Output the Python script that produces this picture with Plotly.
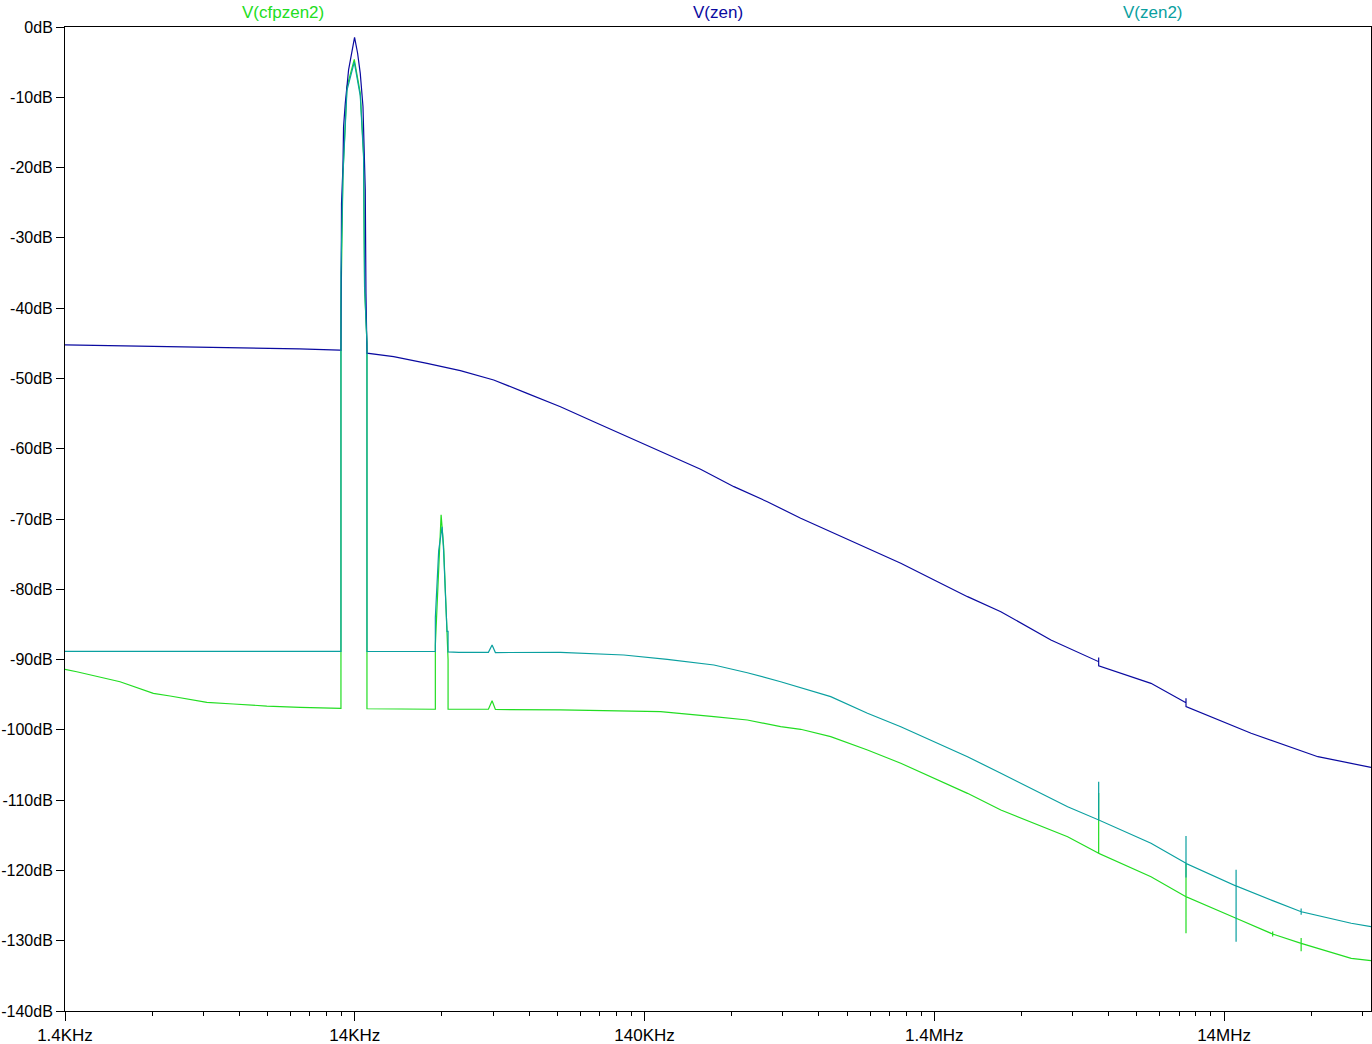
import plotly.graph_objects as go

# ---------------- data ----------------
freq_zen = [1400, 3000, 6000, 9000, 12400, 12544, 12600, 12746, 12807, 12981, 13328, 13691,
            13977, 14316, 14626, 14944, 15099, 15219, 15303, 15425, 19068, 24864, 32396,
            42224, 55062, 71778, 93576, 121996, 159040, 218540, 284900, 371560, 484260,
            631120, 823200, 1072680, 1397760, 1822800, 2375800, 3536400, 5168800, 5168800,
            5168800, 7833000, 10346000, 10346000, 10346000, 17357000, 29502000, 45000000]
db_zen = [-45.24, -45.45, -45.65, -45.8, -45.96, -46.0, -25.1, -19.9, -14.2, -10.9, -6.1, -3.3,
          -1.47, -3.7, -6.6, -11.3, -18.0, -23.2, -37.9, -46.4, -46.91, -47.85, -48.90,
          -50.22, -52.12, -54.02, -56.16, -58.29, -60.42, -62.93, -65.40, -67.54, -69.90,
          -72.03, -74.17, -76.30, -78.68, -81.05, -83.19, -87.22, -90.30, -89.7,
          -90.9, -93.38, -96.13, -95.5, -96.7, -100.49, -103.82, -105.33]

freq_zen2 = [1400, 12544, 12544, 12746, 13158, 13946, 14626, 15015, 15135, 15425, 15425,
             26558, 26558, 26922, 27272, 28014, 28364, 28756, 29148, 29386, 29386,
             32000, 40488, 41692, 42798, 71778, 118730, 167700, 243000, 316800, 413000,
             614600, 823200, 1072680, 1397760, 1822800, 2375800, 3096800, 3536400,
             4039000, 5168800, 5168800, 5168800, 7833000, 10346000, 10346000, 10346000,
             10346000, 15404000, 15404000, 15404000, 15404000, 20600000, 25830000,
             25830000, 25830000, 25830000, 38454000, 45000000]
db_zen2 = [-88.82, -88.82, -35.0, -21.0, -9.0, -5.0, -9.8, -18.5, -37.0, -45.0, -88.82,
           -88.85, -84.0, -80.0, -74.5, -71.1, -74.5, -80.5, -86.0, -86.0, -88.9,
           -88.97, -88.97, -87.93, -89.0, -88.97, -89.35, -89.96, -90.77, -91.87, -93.15,
           -95.28, -97.64, -99.55, -101.68, -103.82, -106.18, -108.56, -109.74,
           -110.93, -112.82, -107.38, -112.82, -116.14, -118.99, -115.1, -121.0,
           -118.99, -122.21, -119.9, -130.14, -122.21, -124.3, -125.87,
           -125.4, -126.3, -125.87, -127.52, -128.0]

freq_cfp = [1400, 1537, 2168, 2825, 3227, 4322, 5340, 6962, 9075, 12474, 12544, 12544,
            12746, 13158, 13946, 14626, 15015, 15135, 15425, 15425, 26558, 26558, 26922,
            27272, 27804, 28364, 28756, 29148, 29386, 29386, 40488, 41692, 42798, 71778,
            159040, 243000, 316800, 413000, 484260, 614600, 823200, 1072680, 1397760,
            1822800, 2375800, 3096800, 4039000, 5168800, 5168800, 5168800, 7833000,
            10346000, 10346000, 10346000, 10346000, 15404000, 20600000, 20600000,
            20600000, 20600000, 25830000, 25830000, 25830000, 25830000, 38454000, 45000000]
db_cfp = [-91.38, -91.73, -93.15, -94.80, -95.18, -96.08, -96.32, -96.61, -96.79, -96.93,
          -96.93, -40.0, -20.8, -8.5, -4.6, -9.4, -18.0, -37.0, -45.0, -97.0, -97.07, -88.0,
          -82.5, -75.4, -69.4, -73.9, -80.1, -88.2, -90.0, -97.07, -97.07, -95.85, -97.1,
          -97.17, -97.41, -98.13, -98.60, -99.55, -99.92, -100.97, -102.86, -104.76,
          -106.89, -109.03, -111.40, -113.29, -115.20, -117.56, -108.98, -117.56, -120.89,
          -123.74, -118.9, -128.95, -123.74, -126.81, -129.05, -128.7, -129.4, -129.05,
          -130.37, -129.6, -131.5, -130.37, -132.5, -132.84]

y_ticks = [0, -10, -20, -30, -40, -50, -60, -70, -80, -90, -100, -110, -120, -130, -140]
y_labels = ["0dB", "-10dB", "-20dB", "-30dB", "-40dB", "-50dB", "-60dB", "-70dB", "-80dB",
            "-90dB", "-100dB", "-110dB", "-120dB", "-130dB", "-140dB"]
x_ticks = [1.4e3, 1.4e4, 1.4e5, 1.4e6, 1.4e7]
x_labels = ["1.4KHz", "14KHz", "140KHz", "1.4MHz", "14MHz"]
minor_x = [1.4e3 * k * 10 ** n for n in range(5) for k in range(2, 10) if 1.4e3 * k * 10 ** n < 45e6]

names = ["V(cfpzen2)", "V(zen)", "V(zen2)"]
colors = ["#22dd22", "#0a0aa0", "#0aa0a0"]

FONT = "Liberation Sans, Arial, sans-serif"

fig = go.Figure()
fig.add_trace(go.Scatter(x=freq_cfp, y=db_cfp, mode="lines", name=names[0],
                         line=dict(color=colors[0], width=1.2)))
fig.add_trace(go.Scatter(x=freq_zen, y=db_zen, mode="lines", name=names[1],
                         line=dict(color=colors[1], width=1.2)))
fig.add_trace(go.Scatter(x=freq_zen2, y=db_zen2, mode="lines", name=names[2],
                         line=dict(color=colors[2], width=1.2)))

for i, (nm, c) in enumerate(zip(names, colors)):
    fig.add_annotation(text=nm, xref="paper", yref="paper", x=(2 * i + 1) / 6, y=1.0,
                       yshift=15, xanchor="center", yanchor="middle", showarrow=False,
                       font=dict(family=FONT, size=17, color=c))

fig.update_layout(
    width=1372, height=1044,
    margin=dict(l=65, r=1, t=27, b=33),
    paper_bgcolor="white", plot_bgcolor="white",
    showlegend=False,
    font=dict(family=FONT, size=17, color="black"),
    xaxis=dict(type="log", range=[3.14613, 7.65321], tickmode="array",
               tickvals=x_ticks, ticktext=x_labels, ticks="outside", ticklen=9,
               tickcolor="black", showline=True, linecolor="black", linewidth=1,
               mirror=True, showgrid=False, zeroline=False, automargin=False,
               minor=dict(tickmode="array", tickvals=minor_x, ticks="outside",
                          ticklen=4, tickcolor="black", showgrid=False)),
    yaxis=dict(range=[-140, 0], tickmode="array", tickvals=y_ticks, ticktext=y_labels,
               ticks="outside", ticklen=8, tickcolor="black", showline=True,
               linecolor="black", linewidth=1, mirror=True, showgrid=False,
               zeroline=False, automargin=False, tickfont=dict(size=16)),
)

fig.write_html("out.html", config={"displayModeBar": False},
               post_script="document.body.style.margin='0px';")
